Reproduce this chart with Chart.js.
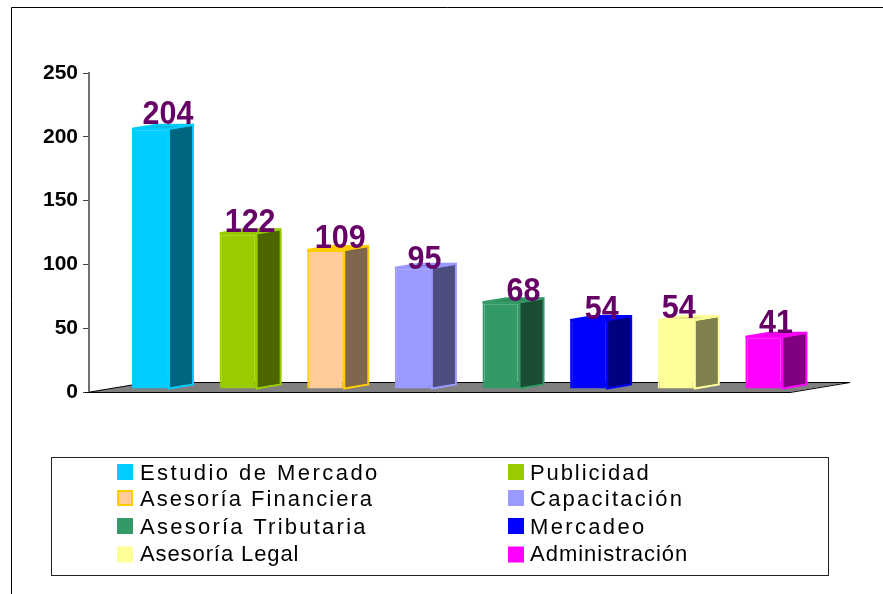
<!DOCTYPE html>
<html lang="es">
<head>
<meta charset="utf-8">
<title>Chart</title>
<style>html,body{margin:0;padding:0;background:#fff;overflow:hidden}canvas{display:block}</style>
<script src="https://cdn.jsdelivr.net/npm/chart.js@4"></script>
</head>
<body>
<canvas id="c" width="883" height="594"></canvas>
<script>
const categories = ["Estudio de Mercado","Publicidad","Asesoría Financiera","Capacitación","Asesoría Tributaria","Mercadeo","Asesoría Legal","Administración"];
const values = [204,122,109,95,68,54,54,41];
const faceColors = ["#00CCFF","#99CC00","#FFCC99","#9999FF","#339966","#0000FF","#FFFF99","#FF00FF"];
const edgeColors = ["#00CCFF","#99CC00","#FFCC00","#9999FF","#339966","#0000FF","#FFFF99","#FF00FF"];
const sideColors = ["#006680","#4D6600","#80664D","#4D4D80","#1A4D33","#000080","#80804D","#800080"];
const topColors  = ["#00B8E6","#8AB800","#FFCC00","#8A8AE6","#2E8A5C","#0000E6","#E6E68A","#E600E6"];
const legendSpacing = [2.45,1.9,2.02,2.25,2.25,2.35,0.9,1.0];
const labelNudgeX = [17.5,12,14.5,11,22.5,13,2.5,12];
const labelNudgeY = [-4.7,-1.3,-2,1.2,-1,-1,-2,-3.7];
const yTicks = [0,50,100,150,200,250];

const DX = 24, DY = 4, SHIFT_X = 17.7, SHIFT_Y = -3;

const scene = {
  id: 'scene',
  beforeDatasetsDraw(chart) {
    const {ctx, chartArea: a} = chart;
    ctx.save();
    // frame
    ctx.strokeStyle = '#000'; ctx.lineWidth = 1;
    ctx.beginPath(); ctx.moveTo(11.5,594); ctx.lineTo(11.5,7.5); ctx.lineTo(883,7.5); ctx.stroke();
    // floor
    const fx = 60, fy = 10, b = a.bottom, l = a.left + 1;
    ctx.fillStyle = '#808080';
    ctx.beginPath();
    ctx.moveTo(l, b); ctx.lineTo(l + fx, b - fy);
    ctx.lineTo(a.right + fx, b - fy); ctx.lineTo(a.right, b); ctx.closePath(); ctx.fill();
    ctx.strokeStyle = '#000'; ctx.lineWidth = 1;
    ctx.beginPath();
    ctx.moveTo(l + fx - 16, b - fy + .5); ctx.lineTo(a.right + fx, b - fy + .5);
    ctx.lineTo(a.right, b + .5); ctx.lineTo(a.left - 4, b + .5);
    ctx.moveTo(l, b); ctx.lineTo(l + fx - 16, b - 7.3);
    ctx.stroke();
    // bar sides and tops
    ctx.translate(SHIFT_X, SHIFT_Y);
    chart.getDatasetMeta(0).data.forEach((bar, i) => {
      const L = bar.x - bar.width / 2, R = bar.x + bar.width / 2, T = bar.y, B = bar.base;
      ctx.lineWidth = 2; ctx.lineJoin = 'miter'; ctx.strokeStyle = edgeColors[i];
      ctx.fillStyle = sideColors[i];
      ctx.beginPath();
      ctx.moveTo(R, T); ctx.lineTo(R + DX, T - DY); ctx.lineTo(R + DX, B - DY); ctx.lineTo(R, B); ctx.closePath();
      ctx.fill(); ctx.stroke();
      ctx.fillStyle = topColors[i];
      ctx.beginPath();
      ctx.moveTo(L, T); ctx.lineTo(L + DX, T - DY); ctx.lineTo(R + DX, T - DY); ctx.lineTo(R, T); ctx.closePath();
      ctx.fill(); ctx.stroke();
    });
    ctx.restore();
    // bars share the same offset from the floor
    ctx.save();
    ctx.translate(SHIFT_X, SHIFT_Y);
  },
  afterDatasetsDraw(chart) {
    const {ctx} = chart;
    ctx.restore();
    ctx.save();
    // value labels
    ctx.font = 'bold 30.5px "Liberation Sans"';
    ctx.fillStyle = '#660066';
    ctx.textAlign = 'center'; ctx.textBaseline = 'alphabetic';
    chart.getDatasetMeta(0).data.forEach((bar, i) => {
      ctx.save();
      ctx.translate(bar.x + SHIFT_X + labelNudgeX[i], bar.y + SHIFT_Y + labelNudgeY[i]);
      ctx.scale(1, 1.08);
      ctx.fillText(String(values[i]), 0, 0);
      ctx.restore();
    });
    // legend
    ctx.strokeStyle = '#222'; ctx.lineWidth = 1;
    ctx.strokeRect(51.5, 457.5, 777, 118);
    const rows = [472, 498, 526, 554.5], cols = [117, 508];
    ctx.font = '22px "Liberation Sans"';
    ctx.textAlign = 'left'; ctx.textBaseline = 'middle';
    categories.forEach((name, i) => {
      const x = cols[i % 2], y = rows[Math.floor(i / 2)];
      ctx.fillStyle = faceColors[i];
      ctx.fillRect(x, y - 8, 16, 16);
      if (edgeColors[i] !== faceColors[i]) {
        ctx.strokeStyle = edgeColors[i]; ctx.lineWidth = 2;
        ctx.strokeRect(x + 1, y - 7, 14, 14);
      }
      ctx.fillStyle = '#000';
      ctx.letterSpacing = legendSpacing[i] + 'px';
      ctx.fillText(name, i % 2 ? x + 22 : x + 23, y + (i > 5 ? 0 : 2));
      ctx.letterSpacing = '0px';
    });
    ctx.restore();
  }
};

new Chart(document.getElementById('c'), {
  type: 'bar',
  data: {
    labels: categories,
    datasets: [{
      data: values,
      backgroundColor: faceColors,
      borderColor: edgeColors,
      borderWidth: 2,
      categoryPercentage: 1,
      barPercentage: 0.4229
    }]
  },
  options: {
    responsive: false,
    animation: false,
    devicePixelRatio: 1,
    layout: {padding: {top: 73, bottom: 202, right: 93, left: 0}},
    plugins: {legend: {display: false}, title: {display: false}, tooltip: {enabled: false}},
    scales: {
      x: {display: false, grid: {display: false}},
      y: {
        min: 0, max: 250,
        afterFit(s) { s.width = 89; },
        afterBuildTicks(s) { s.ticks = yTicks.map(v => ({value: v})); },
        border: {color: '#707070', width: 2},
        grid: {display: true, drawOnChartArea: false, drawTicks: true, tickLength: 6, color: '#444'},
        ticks: {color: '#000', padding: 5, font: {family: '"Liberation Sans"', weight: 'bold', size: 21}}
      }
    }
  },
  plugins: [scene]
});
</script>
</body>
</html>
